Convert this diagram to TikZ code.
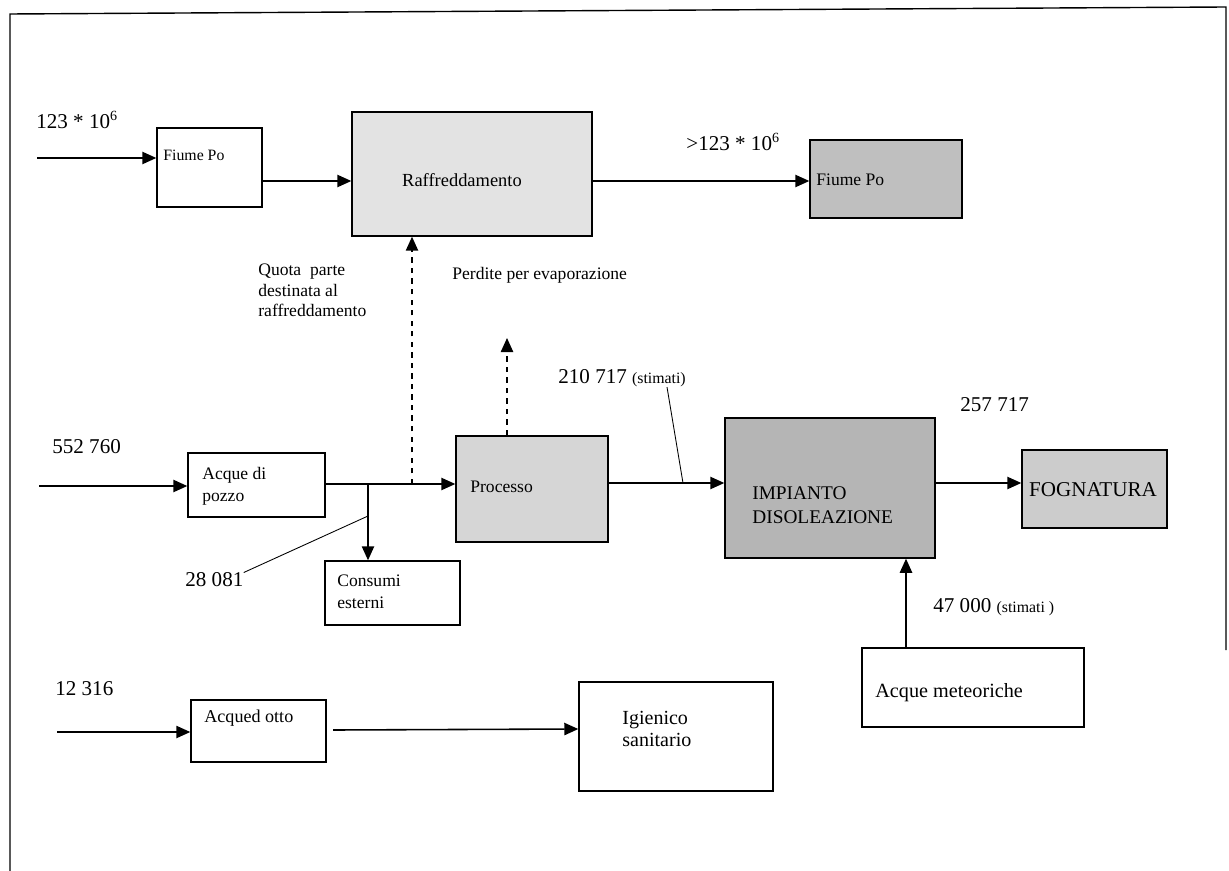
\documentclass[tikz,border=0pt]{standalone}
\usepackage{fontspec}
\setmainfont{Liberation Serif}
\usetikzlibrary{arrows.meta}
\tikzset{
    box/.style={draw, line width=0.8pt, inner sep=0pt},
    txt/.style={inner sep=0pt, anchor=west, align=left, font=\fontsize{10}{12.5}\selectfont},
    num/.style={inner sep=0pt, anchor=west, font=\fontsize{12}{14}\selectfont},
    flow/.style={line width=0.9pt, -{Triangle[length=8pt,width=7pt]}},
    loss/.style={flow, dashed},
    lead/.style={line width=0.5pt}
}

\begin{document}
\begin{tikzpicture}[x=0.02cm, y=-0.02cm]

    \useasboundingbox (0,0) rectangle (1229,871);

    % Frame (open at the bottom)
    \draw[line width=0.8pt] (10,871) -- (10,14) -- (1226,7) -- (1226,650);

    % ==========================================
    % Boxes
    % ==========================================
    \node[box, minimum width=2.10cm, minimum height=1.58cm] (fiume1) at (209.5,167.5) {};
    \node[box, fill=gray!22, minimum width=4.80cm, minimum height=2.48cm] (raff) at (472,174) {};
    \node[box, fill=gray!50, minimum width=3.04cm, minimum height=1.56cm] (fiume2) at (886,179) {};
    \node[box, minimum width=2.74cm, minimum height=1.28cm] (pozzo) at (256.5,485) {};
    \node[box, minimum width=2.70cm, minimum height=1.28cm] (consumi) at (392.5,593) {};
    \node[box, fill=gray!32, minimum width=3.04cm, minimum height=2.12cm] (processo) at (532,489) {};
    \node[box, fill=gray!58, minimum width=4.20cm, minimum height=2.80cm] (impianto) at (830,488) {};
    \node[box, fill=gray!40, minimum width=2.90cm, minimum height=1.56cm] (fogna) at (1094.5,489) {};
    \node[box, minimum width=4.44cm, minimum height=1.58cm] (meteo) at (973,687.5) {};
    \node[box, minimum width=2.70cm, minimum height=1.24cm] (acqued) at (258.5,731) {};
    \node[box, minimum width=3.88cm, minimum height=2.18cm] (igienico) at (676,736.5) {};

    % Box texts
    \node[txt, font=\fontsize{9}{11}\selectfont] (tfiume1) at (163,155) {Fiume Po};
    \node[txt, anchor=center, font=\fontsize{10.5}{12}\selectfont] (traff) at (462,180) {Raffreddamento};
    \node[txt, font=\fontsize{10}{12}\selectfont] (tfiume2) at (816,180) {Fiume Po};
    \node[txt] (tpozzo) at (202,486) {Acque di\\pozzo};
    \node[txt] (tconsumi) at (337,592) {Consumi\\esterni};
    \node[txt] (tprocesso) at (470,487) {Processo};
    \node[txt, font=\fontsize{11}{13.5}\selectfont] (timpianto) at (752,505) {IMPIANTO\\DISOLEAZIONE};
    \node[txt, anchor=center, font=\fontsize{12}{14}\selectfont] (tfogna) at (1093,490) {FOGNATURA};
    \node[txt, font=\fontsize{11.5}{13}\selectfont] (tmeteo) at (875,693) {Acque meteoriche};
    \node[txt, font=\fontsize{10.3}{12}\selectfont] (tacqued) at (204,718) {Acqued otto};
    \node[txt, font=\fontsize{11.4}{13}\selectfont] (tigienico) at (622,729) {Igienico\\sanitario};

    % ==========================================
    % Flow values and notes
    % ==========================================
    \node[num] (v123) at (36,120) {123 * 10\textsuperscript{6}};
    \node[num] (vgt123) at (686,142) {>123 * 10\textsuperscript{6}};
    \node[txt, anchor=north west, font=\fontsize{10}{11.5}\selectfont] (quota) at (258,264) {Quota~ parte\\destinata al\\raffreddamento};
    \node[txt] (perdite) at (452,275) {Perdite per evaporazione};
    \node[num] (v210) at (558,378) {210 717 {\fontsize{9}{11}\selectfont(stimati)}};
    \node[num] (v552) at (52,447) {552 760};
    \node[num] (v28) at (185,580) {28 081};
    \node[num] (v257) at (960,405) {257 717};
    \node[num] (v47) at (933,607) {47 000 {\fontsize{9}{11}\selectfont(stimati )}};
    \node[num] (v12) at (55,689) {12 316};

    % ==========================================
    % Connectors
    % ==========================================
    \coordinate (in1) at (37,158);
    \coordinate (in2) at (39,486);
    \coordinate (in3) at (57,732);
    \coordinate (j1) at (368,484);
    \coordinate (j2) at (412,484);
    \coordinate (evap) at (507,338);

    % Cooling line
    \draw[flow] (in1) -- (in1 -| fiume1.west);
    \draw[flow] (fiume1.east |- 0,181) -- (raff.west |- 0,181);
    \draw[flow] (raff.east |- 0,181) -- (fiume2.west |- 0,181);

    % Well water to process
    \draw[flow] (in2) -- (in2 -| pozzo.west);
    \draw[flow] (pozzo.east |- j1) -- (processo.west |- j1);
    \draw[flow] (j1) -- (j1 |- consumi.north);
    \draw[loss] (j2) -- (j2 |- raff.south);
    \draw[loss] (evap |- processo.north) -- (evap);
    \draw[flow] (processo.east |- 0,483) -- (impianto.west |- 0,483);
    \draw[flow] (impianto.east |- 0,483) -- (fogna.west |- 0,483);
    \draw[flow] (meteo.north -| 906,0) -- (impianto.south -| 906,0);

    % Aqueduct
    \draw[flow] (in3) -- (in3 -| acqued.west);
    \draw[flow] (333,730) -- (igienico.west |- 0,729);

    % Leader lines
    \draw[lead] (v210.south -| 667,0) -- (683,483);
    \draw[lead] (v28.north east) -- (368,516);

\end{tikzpicture}
\end{document}
